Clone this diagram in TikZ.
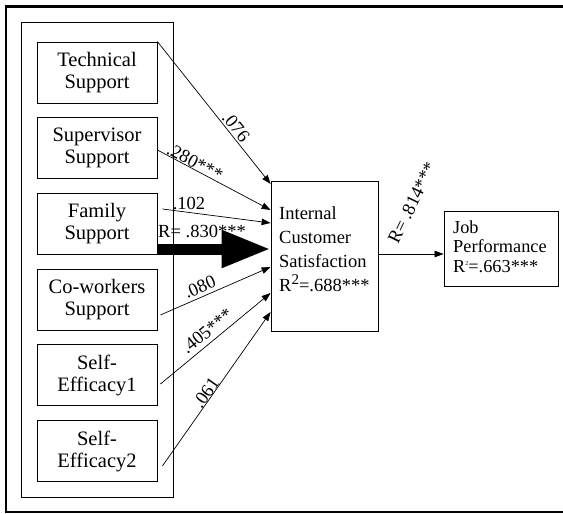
\documentclass[tikz,border=0pt]{standalone}
\usepackage{fontspec}
\setmainfont{Liberation Serif}
\usetikzlibrary{arrows.meta}
\begin{document}
\begin{tikzpicture}[x=1pt,y=-1pt,
  srcbox/.style={draw, line width=0.8pt, minimum width=120pt, minimum height=61pt, align=center, inner sep=0pt, font=\fontsize{20.5}{22}\selectfont},
  arr/.style={line width=0.7pt, -{Triangle[length=9pt,width=6.5pt]}},
  thick arr/.style={line width=11pt, -{Triangle[length=49pt,width=35pt]}},
  lbl/.style={inner sep=0pt, font=\fontsize{18.5}{20}\selectfont},
  txt/.style={inner sep=0pt, anchor=north west, align=left}]
\useasboundingbox (0,0) rectangle (563,514);
% outer frame
\draw[line width=3pt] (565,6.5) -- (5.8,6.5);
\draw[line width=2pt] (5.8,5) -- (5.8,512) ;
\draw[line width=2.5pt] (4.8,512) -- (565,512);
% group box
\node[draw, line width=0.8pt, minimum width=151.5pt, minimum height=475pt, inner sep=0pt] (grp) at (97.5,259.5) {};
% source boxes
\node[srcbox] (tech) at (97,72.5) {Technical\\Support};
\node[srcbox] (sup) at (97,147.5) {Supervisor\\Support};
\node[srcbox] (fam) at (97,223.5) {Family\\Support};
\node[srcbox] (cow) at (97,299.5) {Co-workers\\Support};
\node[srcbox] (se1) at (97,375) {Self-\\Efficacy1};
\node[srcbox] (se2) at (97,451) {Self-\\Efficacy2};
% ICS box
\node[draw, line width=0.8pt, minimum width=107pt, minimum height=150pt, inner sep=0pt] (ics) at (324.5,256) {};
\node[txt, font=\fontsize{18.5}{24}\selectfont] (icstxt) at (279,206.5) {Internal\\Customer\\Satisfaction\\R\raisebox{7pt}{\fontsize{15}{15}\selectfont 2}=.688***};
% Job box
\node[draw, line width=0.8pt, minimum width=114pt, minimum height=75pt, inner sep=0pt] (job) at (501,248.5) {};
\node[txt, font=\fontsize{18.3}{19.5}\selectfont] (jobtxt) at (453,220.5) {Job\\Performance\\R\raisebox{7pt}{\fontsize{6}{6}\selectfont 2}=.663***};
% arrows
\draw[arr] (tech.north east) -- ([yshift=72pt]ics.west);
\draw[arr] ([yshift=-2.5pt]sup.east) -- ([yshift=46pt]ics.west);
\draw[arr] ([xshift=5pt,yshift=14.5pt]fam.east) -- ([yshift=33pt]ics.west);
\draw[thick arr] ([yshift=-25.5pt]fam.east) -- ([yshift=7pt]ics.west);
\draw[arr] ([xshift=3pt,yshift=-15.5pt]cow.east) -- ([yshift=-11pt]ics.west);
\draw[arr] ([xshift=3pt,yshift=-9pt]se1.east) -- ([yshift=-37pt]ics.west);
\draw[arr] ([xshift=5pt,yshift=-15pt]se2.east) -- ([yshift=-56pt]ics.west);
\draw[arr] ([yshift=2pt]ics.east) -- ([yshift=-5.5pt]job.west);
% labels
\node[lbl, rotate=-51] (l1) at (236,127) {.076};
\node[lbl, rotate=-28] (l2) at (195,162) {.280***};
\node[lbl] (l3) at (189,203.5) {.102};
\node[lbl] (l4) at (202,231) {R= .830***};
\node[lbl, rotate=23] (l5) at (200,287) {.080};
\node[lbl, rotate=39] (l6) at (207,331) {.405***};
\node[lbl, rotate=55] (l7) at (206,393) {.061};
\node[lbl, rotate=64] (l8) at (412,203) {R= .814***};
\end{tikzpicture}
\end{document}
